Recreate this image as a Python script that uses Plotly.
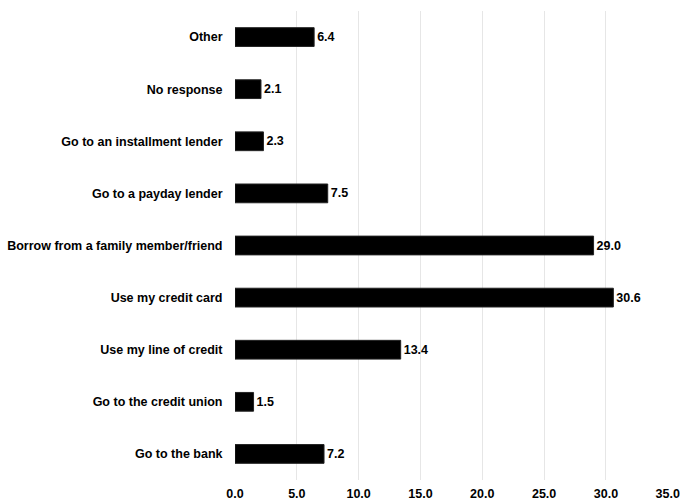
import plotly.graph_objects as go

categories = [
    "Go to the bank",
    "Go to the credit union",
    "Use my line of credit",
    "Use my credit card",
    "Borrow from a family member/friend",
    "Go to a payday lender",
    "Go to an installment lender",
    "No response",
    "Other",
]
values = [7.2, 1.5, 13.4, 30.6, 29.0, 7.5, 2.3, 2.1, 6.4]
x_ticks = [0, 5, 10, 15, 20, 25, 30, 35]

font_family = "Liberation Sans, Arial, sans-serif"

fig = go.Figure(
    go.Bar(
        x=values,
        y=categories,
        orientation="h",
        marker=dict(color="#000000", line=dict(color="#222222", width=1)),
        texttemplate="%{x:.1f}",
        textposition="outside",
        textfont=dict(family=font_family, size=12.5, color="#000000", weight="bold"),
        cliponaxis=False,
        width=0.36,
    )
)

fig.update_layout(
    width=680,
    height=504,
    margin=dict(l=235, r=12, t=11, b=24),
    plot_bgcolor="white",
    paper_bgcolor="white",
    showlegend=False,
    font=dict(family=font_family, size=12.5, color="#000000"),
    xaxis=dict(
        range=[0, 35.02],
        tickvals=x_ticks,
        tickformat=".1f",
        showgrid=True,
        gridcolor="#e6e6e6",
        gridwidth=1,
        zeroline=False,
        showline=False,
        ticks="",
        automargin=False,
        ticklabelstandoff=4,
        tickfont=dict(family=font_family, size=12.5, color="#000000", weight="bold"),
    ),
    yaxis=dict(
        showgrid=False,
        zeroline=False,
        showline=False,
        ticks="outside",
        ticklen=9,
        automargin=False,
        tickcolor="rgba(0,0,0,0)",
        tickfont=dict(family=font_family, size=12.5, color="#000000", weight="bold"),
    ),
)

fig.write_html("out.html")
